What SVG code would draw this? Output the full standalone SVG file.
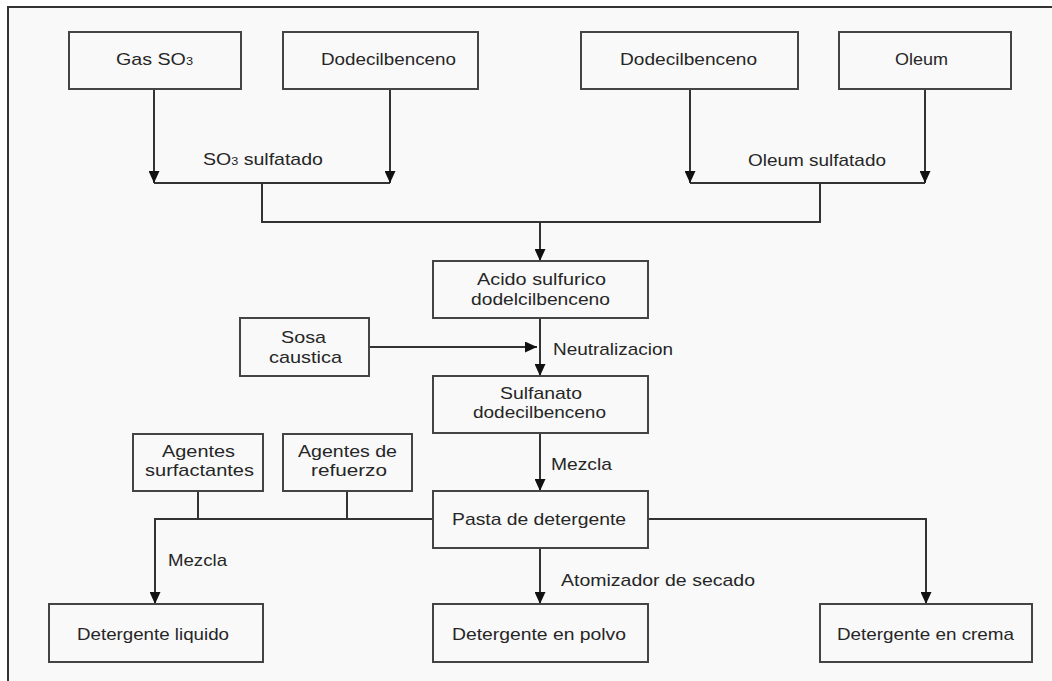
<svg xmlns="http://www.w3.org/2000/svg" width="1052" height="681" viewBox="0 0 1052 681">
<style>
.bx{fill:none;stroke:#444;stroke-width:2}
.ln{fill:none;stroke:#333;stroke-width:2}
.t{font-family:"Liberation Sans",Arial,sans-serif;font-size:17px;fill:#262626}
.s{font-size:11px}
</style>
<defs>
<marker id="ah" markerUnits="userSpaceOnUse" markerWidth="12" markerHeight="11" refX="12" refY="5.5" orient="auto">
<path d="M0,0 L12,5.5 L0,11 z" fill="#111"/>
</marker>
</defs>
<rect x="0" y="0" width="1052" height="681" fill="#ffffff"/>
<rect x="8" y="7" width="1060" height="690" fill="#f9f9f9" stroke="#333" stroke-width="2"/>

<g id="connectors">
<path class="ln" d="M154,89 V183" marker-end="url(#ah)"/>
<path class="ln" d="M390,89 V183" marker-end="url(#ah)"/>
<path class="ln" d="M154,183 H390"/>
<path class="ln" d="M262,183 V222 H820 V183"/>
<path class="ln" d="M690,89 V183" marker-end="url(#ah)"/>
<path class="ln" d="M925,89 V183" marker-end="url(#ah)"/>
<path class="ln" d="M690,183 H925"/>
<path class="ln" d="M540,222 V261" marker-end="url(#ah)"/>
<path class="ln" d="M540,318 V376" marker-end="url(#ah)"/>
<path class="ln" d="M369,347 H537" marker-end="url(#ah)"/>
<path class="ln" d="M540,433 V491" marker-end="url(#ah)"/>
<path class="ln" d="M433,519 H155 V604" marker-end="url(#ah)"/>
<path class="ln" d="M198,491 V519"/>
<path class="ln" d="M347,491 V519"/>
<path class="ln" d="M540,548 V604" marker-end="url(#ah)"/>
<path class="ln" d="M648,519 H926 V604" marker-end="url(#ah)"/>
<text class="t" x="203" y="165" textLength="120" lengthAdjust="spacingAndGlyphs">SO<tspan class="s">3</tspan> sulfatado</text>
<text class="t" x="748" y="166" textLength="138" lengthAdjust="spacingAndGlyphs">Oleum sulfatado</text>
<text class="t" x="553" y="355" textLength="120" lengthAdjust="spacingAndGlyphs">Neutralizacion</text>
<text class="t" x="551" y="470" textLength="61" lengthAdjust="spacingAndGlyphs">Mezcla</text>
<text class="t" x="168" y="566" textLength="59" lengthAdjust="spacingAndGlyphs">Mezcla</text>
<text class="t" x="561" y="586" textLength="194" lengthAdjust="spacingAndGlyphs">Atomizador de secado</text>
</g>

<g id="gas">
<rect class="bx" x="69" y="32" width="172" height="57"/>
<text class="t" x="116" y="65" textLength="77" lengthAdjust="spacingAndGlyphs">Gas SO<tspan class="s">3</tspan></text>
</g>
<g id="dodec1">
<rect class="bx" x="283" y="32" width="195" height="57"/>
<text class="t" x="321" y="65" textLength="135" lengthAdjust="spacingAndGlyphs">Dodecilbenceno</text>
</g>
<g id="dodec2">
<rect class="bx" x="581" y="32" width="217" height="57"/>
<text class="t" x="620" y="65" textLength="137" lengthAdjust="spacingAndGlyphs">Dodecilbenceno</text>
</g>
<g id="oleum">
<rect class="bx" x="839" y="32" width="172" height="57"/>
<text class="t" x="895" y="65" textLength="53" lengthAdjust="spacingAndGlyphs">Oleum</text>
</g>
<g id="acido">
<rect class="bx" x="433" y="261" width="215" height="57"/>
<text class="t" x="477" y="285" textLength="129" lengthAdjust="spacingAndGlyphs">Acido sulfurico</text>
<text class="t" x="471" y="305" textLength="139" lengthAdjust="spacingAndGlyphs">dodelcilbenceno</text>
</g>
<g id="sosa">
<rect class="bx" x="240" y="318" width="129" height="58"/>
<text class="t" x="281" y="343" textLength="45" lengthAdjust="spacingAndGlyphs">Sosa</text>
<text class="t" x="269" y="363" textLength="73" lengthAdjust="spacingAndGlyphs">caustica</text>
</g>
<g id="sulfanato">
<rect class="bx" x="433" y="376" width="215" height="57"/>
<text class="t" x="500" y="399" textLength="82" lengthAdjust="spacingAndGlyphs">Sulfanato</text>
<text class="t" x="473" y="418" textLength="133" lengthAdjust="spacingAndGlyphs">dodecilbenceno</text>
</g>
<g id="surfactantes">
<rect class="bx" x="133" y="434" width="130" height="57"/>
<text class="t" x="162" y="457" textLength="73" lengthAdjust="spacingAndGlyphs">Agentes</text>
<text class="t" x="145" y="476" textLength="109" lengthAdjust="spacingAndGlyphs">surfactantes</text>
</g>
<g id="refuerzo">
<rect class="bx" x="283" y="434" width="129" height="57"/>
<text class="t" x="298" y="457" textLength="99" lengthAdjust="spacingAndGlyphs">Agentes de</text>
<text class="t" x="311" y="476" textLength="76" lengthAdjust="spacingAndGlyphs">refuerzo</text>
</g>
<g id="pasta">
<rect class="bx" x="433" y="491" width="215" height="57"/>
<text class="t" x="452" y="525" textLength="174" lengthAdjust="spacingAndGlyphs">Pasta de detergente</text>
</g>
<g id="liquido">
<rect class="bx" x="49" y="604" width="214" height="58"/>
<text class="t" x="77" y="640" textLength="152" lengthAdjust="spacingAndGlyphs">Detergente liquido</text>
</g>
<g id="polvo">
<rect class="bx" x="433" y="604" width="215" height="58"/>
<text class="t" x="452" y="640" textLength="174" lengthAdjust="spacingAndGlyphs">Detergente en polvo</text>
</g>
<g id="crema">
<rect class="bx" x="820" y="604" width="212" height="58"/>
<text class="t" x="837" y="640" textLength="177" lengthAdjust="spacingAndGlyphs">Detergente en crema</text>
</g>
</svg>
